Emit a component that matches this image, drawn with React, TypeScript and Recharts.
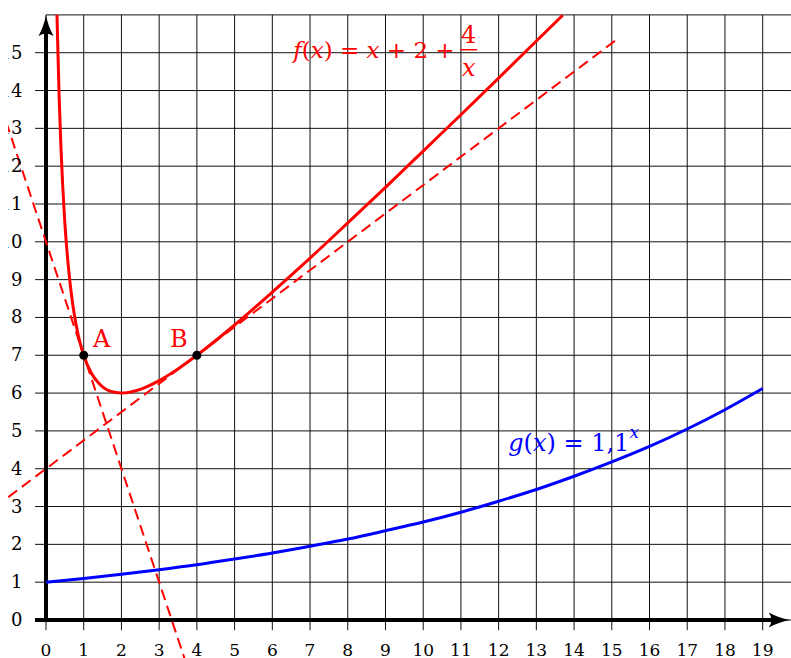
import { LineChart, Line, XAxis, YAxis, ReferenceLine, ReferenceDot } from "recharts";

document.body.style.margin = "0";

const W = 783;
const H = 658;
const X_DOMAIN: [number, number] = [-1.0074, 19.751];
const Y_DOMAIN: [number, number] = [-1.005, 16.394];

const xTicks = [0, 1, 2, 3, 4, 5, 6, 7, 8, 9, 10, 11, 12, 13, 14, 15, 16, 17, 18, 19];
const yTicks = [0, 1, 2, 3, 4, 5, 6, 7, 8, 9, 10, 11, 12, 13, 14, 15];
const gridX = [0, 1, 2, 3, 4, 5, 6, 7, 8, 9, 10, 11, 12, 13, 14, 15, 16, 17, 18, 19];
const gridY = [0, 1, 2, 3, 4, 5, 6, 7, 8, 9, 10, 11, 12, 13, 14, 15];

// f(x) = x + 2 + 4/x
const fX = [0.292, 0.3, 0.35, 0.4, 0.5, 0.6, 0.7, 0.8, 0.9, 1, 1.2, 1.4, 1.7, 2, 2.5, 3, 3.5, 4, 5, 6, 7, 8, 9, 10, 11, 12, 13, 13.7];
const fY = [16.0, 15.63, 13.78, 12.4, 10.5, 9.27, 8.41, 7.8, 7.34, 7, 6.53, 6.26, 6.05, 6, 6.1, 6.33, 6.64, 7, 7.8, 8.67, 9.57, 10.5, 11.44, 12.4, 13.36, 14.33, 15.31, 15.99];

// g(x) = 1,1^x
const gX = [0, 1, 2, 3, 4, 5, 6, 7, 8, 9, 10, 11, 12, 13, 14, 15, 16, 17, 18, 19];
const gY = [1, 1.1, 1.21, 1.33, 1.46, 1.61, 1.77, 1.95, 2.14, 2.36, 2.59, 2.85, 3.14, 3.45, 3.8, 4.18, 4.59, 5.05, 5.56, 6.12];

// tangents at A and B
const tanAX = [-1.2, 4];
const tanAY = [13.6, -2];
const tanBX = [-1, 15.2];
const tanBY = [3.25, 15.4];

const points = [
  { name: "A", x: 1, y: 7 },
  { name: "B", x: 4, y: 7 },
];

const zip = (xs: number[], ys: number[]) => xs.map((x, i) => ({ x, y: ys[i] }));

const fData = zip(fX, fY);
const gData = zip(gX, gY);
const tanAData = zip(tanAX, tanAY);
const tanBData = zip(tanBX, tanBY);

const SERIF = "'DejaVu Serif', serif";
const RED = "#ff0000";
const BLUE = "#0000ff";

type DotProps = { cx?: number; cy?: number };

const arrowUp = (p: DotProps) => {
  const { cx = 0, cy = 0 } = p;
  return (
    <path
      d={`M${cx},${cy} Q${cx + 2},${cy + 11} ${cx + 7.5},${cy + 21} Q${cx},${cy + 16} ${cx - 7.5},${cy + 21} Q${cx - 2},${cy + 11} ${cx},${cy} Z`}
      fill="#000"
    />
  );
};

const arrowRight = (p: DotProps) => {
  const { cx = 0, cy = 0 } = p;
  return (
    <path
      d={`M${cx},${cy} Q${cx - 11},${cy - 2} ${cx - 21},${cy - 7.5} Q${cx - 16},${cy} ${cx - 21},${cy + 7.5} Q${cx - 11},${cy + 2} ${cx},${cy} Z`}
      fill="#000"
    />
  );
};

export default function App() {
  return (
    <div style={{ width: 791, height: 658, overflow: "hidden", background: "#fff" }}>
      <div style={{ marginLeft: 8, width: W, height: H }}>
        <LineChart width={W} height={H} margin={{ top: 0, right: 0, bottom: 0, left: 0 }}>
          <XAxis type="number" dataKey="x" domain={X_DOMAIN} allowDataOverflow hide />
          <YAxis type="number" dataKey="y" domain={Y_DOMAIN} allowDataOverflow hide />

          {gridX.map((x) => (
            <ReferenceLine
              key={`gx${x}`}
              segment={[{ x, y: -0.27 }, { x, y: 16 }]}
              stroke="#111"
              strokeWidth={1}
            />
          ))}
          {gridY.map((y) => (
            <ReferenceLine
              key={`gy${y}`}
              segment={[{ x: -0.29, y }, { x: 19.75, y }]}
              stroke="#111"
              strokeWidth={1}
            />
          ))}
          <ReferenceLine segment={[{ x: 0, y: 16 }, { x: 19.75, y: 16 }]} stroke="#111" strokeWidth={1} />

          {/* axes */}
          <ReferenceLine segment={[{ x: -0.29, y: 0 }, { x: 19.3, y: 0 }]} stroke="#000" strokeWidth={4} />
          <ReferenceLine segment={[{ x: 0, y: 0 }, { x: 0, y: 15.6 }]} stroke="#000" strokeWidth={4} />
          <ReferenceDot x={0} y={16} r={0} shape={arrowUp} />
          <ReferenceDot x={19.72} y={0} r={0} shape={arrowRight} />

          {/* tick labels */}
          {xTicks.map((t) => (
            <ReferenceDot
              key={`xt${t}`}
              x={t}
              y={0}
              r={0}
              shape={(p: DotProps) => (
                <text x={p.cx} y={(p.cy ?? 0) + 36} textAnchor="middle" fontFamily={SERIF} fontSize={17} fill="#000">
                  {t}
                </text>
              )}
            />
          ))}
          {yTicks.map((t) => (
            <ReferenceDot
              key={`yt${t}`}
              x={0}
              y={t}
              r={0}
              shape={(p: DotProps) => (
                <text x={(p.cx ?? 0) - 23.5} y={(p.cy ?? 0) + 6} textAnchor="end" fontFamily={SERIF} fontSize={18} fill="#000">
                  {t}
                </text>
              )}
            />
          ))}

          {/* curves */}
          <Line data={tanAData} dataKey="y" type="linear" stroke={RED} strokeWidth={2} strokeDasharray="11 6" dot={false} isAnimationActive={false} />
          <Line data={tanBData} dataKey="y" type="linear" stroke={RED} strokeWidth={2} strokeDasharray="11 6" dot={false} isAnimationActive={false} />
          <Line data={gData} dataKey="y" type="monotone" stroke={BLUE} strokeWidth={3} dot={false} isAnimationActive={false} />
          <Line data={fData} dataKey="y" type="monotone" stroke={RED} strokeWidth={3} dot={false} isAnimationActive={false} />

          {points.map((pt) => (
            <ReferenceDot key={pt.name} x={pt.x} y={pt.y} r={4.5} fill="#000" stroke="none" />
          ))}
          {points.map((pt) => (
            <ReferenceDot
              key={`lbl${pt.name}`}
              x={pt.x}
              y={pt.y}
              r={0}
              shape={(p: DotProps) => (
                <text
                  x={(p.cx ?? 0) + (pt.name === "A" ? 18 : -18)}
                  y={(p.cy ?? 0) - 8}
                  textAnchor="middle"
                  fontFamily={SERIF}
                  fontSize={24}
                  fill={RED}
                >
                  {pt.name}
                </text>
              )}
            />
          ))}

          {/* function labels */}
          <ReferenceDot
            x={6.5}
            y={15}
            r={0}
            shape={(p: DotProps) => {
              const cx = p.cx ?? 0;
              const cy = p.cy ?? 0;
              return (
                <g fill={RED} fontFamily={SERIF} fontSize={23}>
                  <text x={cx + 2} y={cy + 5}>
                    <tspan fontStyle="italic">f</tspan>
                    <tspan>(</tspan>
                    <tspan fontStyle="italic">x</tspan>
                    <tspan>) = </tspan>
                    <tspan fontStyle="italic">x</tspan>
                    <tspan> + 2 +</tspan>
                  </text>
                  <text x={cx + 177.5} y={cy - 10} textAnchor="middle" fontSize={24}>4</text>
                  <line x1={cx + 169} x2={cx + 186} y1={cy - 3} y2={cy - 3} stroke={RED} strokeWidth={1.5} />
                  <text x={cx + 177.5} y={cy + 23} textAnchor="middle" fontStyle="italic" fontSize={24}>x</text>
                </g>
              );
            }}
          />
          <ReferenceDot
            x={12.2}
            y={4.5}
            r={0}
            shape={(p: DotProps) => {
              const cx = p.cx ?? 0;
              const cy = p.cy ?? 0;
              return (
                <text x={cx + 2} y={cy + 1} fill={BLUE} fontFamily={SERIF} fontSize={24}>
                  <tspan fontStyle="italic">g</tspan>
                  <tspan>(</tspan>
                  <tspan fontStyle="italic">x</tspan>
                  <tspan>) = 1,1</tspan>
                  <tspan fontStyle="italic" fontSize={17} dy={-13}>x</tspan>
                </text>
              );
            }}
          />
        </LineChart>
      </div>
    </div>
  );
}
